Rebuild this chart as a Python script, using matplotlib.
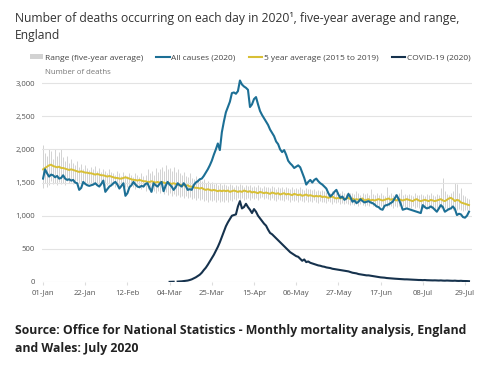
import numpy as np
import pandas as pd
import matplotlib
matplotlib.use("Agg")
import matplotlib.pyplot as plt
from matplotlib.lines import Line2D
from matplotlib.patches import Patch

plt.rcParams['font.family'] = ['Open Sans', 'DejaVu Sans']

# daily values, 01-Jan to 31-Jul 2020
all_causes = [
    1560, 1700, 1640, 1590, 1620, 1610, 1580,
    1600, 1560, 1570, 1610, 1560, 1540, 1550,
    1530, 1540, 1500, 1490, 1390, 1420, 1510,
    1480, 1460, 1450, 1460, 1470, 1490, 1460,
    1440, 1480, 1530, 1360, 1400, 1440, 1460,
    1490, 1510, 1470, 1410, 1450, 1490, 1300,
    1340, 1430, 1460, 1510, 1470, 1440, 1430,
    1450, 1440, 1480, 1490, 1420, 1360, 1490,
    1460, 1440, 1480, 1510, 1370, 1450, 1510,
    1470, 1440, 1390, 1430, 1490, 1460, 1440,
    1490, 1450, 1390, 1400, 1390, 1460, 1500,
    1520, 1550, 1560, 1600, 1650, 1700, 1760,
    1830, 1920, 2000, 2090, 1990, 2260, 2420,
    2560, 2640, 2720, 2850, 2860, 2840, 2880,
    3040, 2980, 2950, 2930, 2900, 2640, 2680,
    2760, 2790, 2680, 2580, 2520, 2470, 2420,
    2370, 2300, 2250, 2200, 2120, 2080, 2000,
    1960, 1990, 1920, 1830, 1790, 1760, 1720,
    1740, 1760, 1730, 1650, 1570, 1470, 1510,
    1540, 1500, 1540, 1560, 1520, 1490, 1470,
    1440, 1410, 1340, 1290, 1320, 1360, 1390,
    1320, 1270, 1290, 1240, 1260, 1330, 1280,
    1210, 1230, 1190, 1210, 1250, 1220, 1200,
    1210, 1220, 1200, 1190, 1170, 1140, 1130,
    1100, 1090, 1150, 1160, 1170, 1190, 1210,
    1260, 1310, 1250, 1180, 1090, 1100, 1110,
    1100, 1090, 1080, 1070, 1060, 1050, 1040,
    1160, 1130, 1110, 1120, 1140, 1120, 1090,
    1060, 1110, 1160, 1130, 1060, 1080, 1100,
    1110, 1140, 1100, 1010, 1030, 1020, 980,
    970, 1000, 1060,
]

five_year_avg = [
    1700, 1720, 1740, 1760, 1770, 1750, 1740,
    1730, 1740, 1720, 1720, 1710, 1700, 1690,
    1700, 1690, 1680, 1670, 1660, 1670, 1660,
    1650, 1650, 1640, 1640, 1630, 1620, 1630,
    1620, 1610, 1610, 1600, 1590, 1600, 1590,
    1580, 1570, 1570, 1560, 1560, 1570, 1580,
    1570, 1560, 1550, 1540, 1540, 1530, 1540,
    1530, 1520, 1520, 1510, 1510, 1520, 1510,
    1500, 1510, 1500, 1510, 1500, 1490, 1500,
    1490, 1480, 1490, 1480, 1470, 1470, 1460,
    1460, 1450, 1460, 1440, 1440, 1430, 1420,
    1420, 1410, 1420, 1400, 1390, 1400, 1390,
    1380, 1390, 1380, 1370, 1380, 1370, 1380,
    1370, 1380, 1360, 1370, 1380, 1370, 1360,
    1370, 1360, 1380, 1370, 1360, 1370, 1350,
    1360, 1350, 1340, 1360, 1350, 1340, 1350,
    1340, 1330, 1350, 1340, 1330, 1340, 1320,
    1330, 1340, 1320, 1330, 1320, 1310, 1330,
    1320, 1310, 1320, 1300, 1310, 1320, 1300,
    1310, 1300, 1290, 1300, 1290, 1300, 1280,
    1290, 1280, 1270, 1280, 1290, 1270, 1260,
    1270, 1260, 1270, 1250, 1260, 1270, 1250,
    1260, 1240, 1250, 1240, 1250, 1260, 1230,
    1240, 1250, 1230, 1240, 1230, 1240, 1250,
    1240, 1230, 1240, 1250, 1260, 1240, 1250,
    1240, 1230, 1250, 1240, 1230, 1240, 1250,
    1240, 1230, 1220, 1240, 1250, 1230, 1220,
    1230, 1240, 1230, 1220, 1240, 1230, 1220,
    1230, 1240, 1250, 1230, 1220, 1240, 1260,
    1270, 1250, 1220, 1240, 1230, 1200, 1190,
    1180, 1170, 1160,
]

nan = np.nan
covid = [nan] * 63 + [
    2, 3, 4, nan, 6, 8, 10,
    14, 18, 22, 30, 40, 55, 70,
    90, 110, 140, 180, 215, 260, 310,
    360, 410, 470, 530, 600, 680, 760,
    840, 900, 950, 1000, 1010, 1020, 1140,
    1220, 1110, 1130, 1180, 1130, 1090, 1040,
    1100, 1060, 1000, 960, 920, 880, 850,
    790, 740, 720, 690, 660, 630, 600,
    570, 540, 510, 480, 450, 430, 410,
    390, 380, 350, 320, 340, 300, 310,
    290, 280, 270, 260, 250, 245, 235,
    230, 220, 215, 210, 200, 195, 190,
    185, 180, 175, 170, 165, 160, 150,
    140, 135, 130, 120, 115, 110, 105,
    100, 100, 95, 90, 85, 80, 75,
    70, 68, 65, 60, 58, 55, 52,
    50, 48, 46, 44, 42, 40, 40,
    38, 36, 35, 34, 32, 30, 30,
    28, 30, 27, 26, 25, 24, 25,
    23, 22, 24, 21, 20, 22, 20,
    19, 18, 20, 17, 16, 18, 15,
    15, 14, 12,
]

range_high = [
    2060, 1950, 1900, 2000, 1980, 1850, 2010,
    1900, 1960, 2000, 1880, 1820, 1900, 1790,
    1850, 1800, 1760, 1820, 1740, 1780, 1700,
    1760, 1720, 1690, 1740, 1700, 1750, 1680,
    1720, 1660, 1700, 1680, 1640, 1700, 1660,
    1650, 1620, 1680, 1640, 1600, 1660, 1620,
    1600, 1650, 1620, 1590, 1640, 1610, 1580,
    1650, 1600, 1620, 1700, 1640, 1680, 1620,
    1720, 1660, 1700, 1740, 1680, 1760, 1700,
    1720, 1680, 1740, 1660, 1700, 1640, 1620,
    1660, 1600, 1580, 1640, 1570, 1560, 1600,
    1540, 1560, 1520, 1550, 1500, 1530, 1490,
    1510, 1480, 1500, 1470, 1490, 1460, 1480,
    1470, 1450, 1480, 1460, 1440, 1470, 1450,
    1480, 1460, 1440, 1470, 1450, 1460, 1440,
    1450, 1430, 1460, 1440, 1420, 1450, 1430,
    1440, 1420, 1450, 1430, 1410, 1440, 1420,
    1430, 1410, 1440, 1420, 1400, 1430, 1410,
    1420, 1400, 1430, 1410, 1390, 1420, 1400,
    1410, 1390, 1400, 1380, 1390, 1370, 1390,
    1380, 1360, 1380, 1350, 1370, 1360, 1350,
    1360, 1340, 1370, 1350, 1330, 1360, 1340,
    1350, 1330, 1380, 1340, 1320, 1350, 1330,
    1340, 1320, 1410, 1330, 1320, 1340, 1320,
    1340, 1320, 1300, 1430, 1320, 1340, 1310,
    1330, 1310, 1340, 1400, 1320, 1330, 1310,
    1330, 1310, 1300, 1340, 1320, 1310, 1330,
    1320, 1300, 1330, 1310, 1350, 1320, 1300,
    1330, 1310, 1420, 1570, 1380, 1330, 1310,
    1340, 1380, 1500, 1480, 1340, 1420, 1310,
    1290, 1270, 1250,
]

range_low = [
    1420, 1500, 1440, 1460, 1520, 1480, 1500,
    1460, 1510, 1480, 1500, 1470, 1520, 1490,
    1510, 1480, 1500, 1520, 1490, 1510, 1480,
    1500, 1470, 1490, 1460, 1480, 1500, 1470,
    1480, 1460, 1470, 1450, 1470, 1480, 1450,
    1460, 1440, 1470, 1450, 1430, 1460, 1440,
    1440, 1420, 1450, 1430, 1410, 1440, 1420,
    1400, 1430, 1380, 1410, 1360, 1390, 1370,
    1350, 1380, 1340, 1370, 1330, 1360, 1320,
    1340, 1300, 1330, 1290, 1310, 1280, 1300,
    1270, 1290, 1260, 1280, 1250, 1270, 1240,
    1260, 1230, 1250, 1220, 1240, 1210, 1230,
    1220, 1240, 1210, 1230, 1200, 1220, 1210,
    1230, 1210, 1240, 1220, 1250, 1230, 1260,
    1240, 1260, 1230, 1250, 1270, 1240, 1260,
    1250, 1270, 1240, 1260, 1280, 1250, 1270,
    1250, 1230, 1260, 1240, 1220, 1250, 1230,
    1240, 1220, 1250, 1230, 1210, 1240, 1220,
    1230, 1210, 1240, 1220, 1200, 1230, 1210,
    1220, 1200, 1230, 1210, 1190, 1220, 1200,
    1210, 1190, 1220, 1200, 1180, 1210, 1190,
    1200, 1180, 1190, 1170, 1190, 1180, 1160,
    1180, 1160, 1170, 1150, 1170, 1160, 1140,
    1160, 1150, 1170, 1140, 1160, 1150, 1130,
    1150, 1140, 1160, 1130, 1150, 1140, 1120,
    1140, 1130, 1150, 1120, 1140, 1130, 1110,
    1130, 1120, 1140, 1110, 1130, 1120, 1100,
    1120, 1110, 1130, 1100, 1120, 1110, 1090,
    1110, 1100, 1120, 1090, 1110, 1100, 1080,
    1100, 1090, 1110, 1080, 1100, 1090, 1070,
    1090, 1080, 1070,
]

dates = pd.date_range("2020-01-01", periods=len(all_causes), freq="D")
tick_dates = pd.date_range("2020-01-01", periods=11, freq="21D")
y_ticks = [0, 500, 1000, 1500, 2000, 2500, 3000]

c_range = "#d2d2d2"
c_all = "#1c6f95"
c_avg = "#d8bf35"
c_covid = "#16324d"

fig = plt.figure(figsize=(5, 3.77), dpi=100)
ax = fig.add_axes([0.0834, 0.252, 0.8596, 0.545])

ax.vlines(dates, range_low, range_high, color=c_range, lw=0.7, zorder=1)
ax.plot(dates, five_year_avg, color=c_avg, lw=1.4, zorder=3)
ax.plot(dates, all_causes, color=c_all, lw=1.5, zorder=4)
ax.plot(dates, covid, color=c_covid, lw=1.5, zorder=4)

ax.set_xlim(dates[0] - pd.Timedelta(hours=16), dates[-1] + pd.Timedelta(hours=30))
ax.set_ylim(0, 3100)
ax.set_yticks(y_ticks)
ax.set_yticklabels([f"{v:,}" for v in y_ticks])
ax.set_xticks(tick_dates)
ax.set_xticklabels([d.strftime("%d-%b") for d in tick_dates])
ax.grid(axis="y", color="#e3e3e3", lw=0.8, zorder=0)
for s in ax.spines.values():
    s.set_visible(False)
ax.tick_params(axis="y", length=0, labelsize=5.6, labelcolor="#555555", pad=5)
ax.tick_params(axis="x", length=2.5, color="#dddddd", labelsize=5.6,
               labelcolor="#555555", pad=3)

ax.text(0.008, 1.005, "Number of deaths", transform=ax.transAxes, fontsize=5.6,
        color="#777777", va="bottom", ha="left")

handles = [
    Patch(facecolor=c_range, edgecolor="none"),
    Line2D([], [], color=c_all, lw=1.5),
    Line2D([], [], color=c_avg, lw=1.5),
    Line2D([], [], color=c_covid, lw=1.5),
]
labels = ["Range (five-year average)", "All causes (2020)",
          "5 year average (2015 to 2019)", "COVID-19 (2020)"]
fig.legend(handles, labels, loc="center", bbox_to_anchor=(0.5, 0.846), ncol=4,
           frameon=False, fontsize=6.0, handlelength=1.6, handleheight=0.5,
           handletextpad=0.2, columnspacing=1.6, labelcolor="#444444")

fig.text(0.03, 0.968, "Number of deaths occurring on each day in 2020\u00b9, five-year average and range,\nEngland",
         fontsize=8.7, color="#333333", va="top", ha="left", linespacing=1.35)
fig.text(0.03, 0.14, "Source: Office for National Statistics - Monthly mortality analysis, England\nand Wales: July 2020",
         fontsize=8.8, fontweight="bold", color="#222222", va="top", ha="left",
         linespacing=1.45)

fig.savefig("out.png", dpi=100)
